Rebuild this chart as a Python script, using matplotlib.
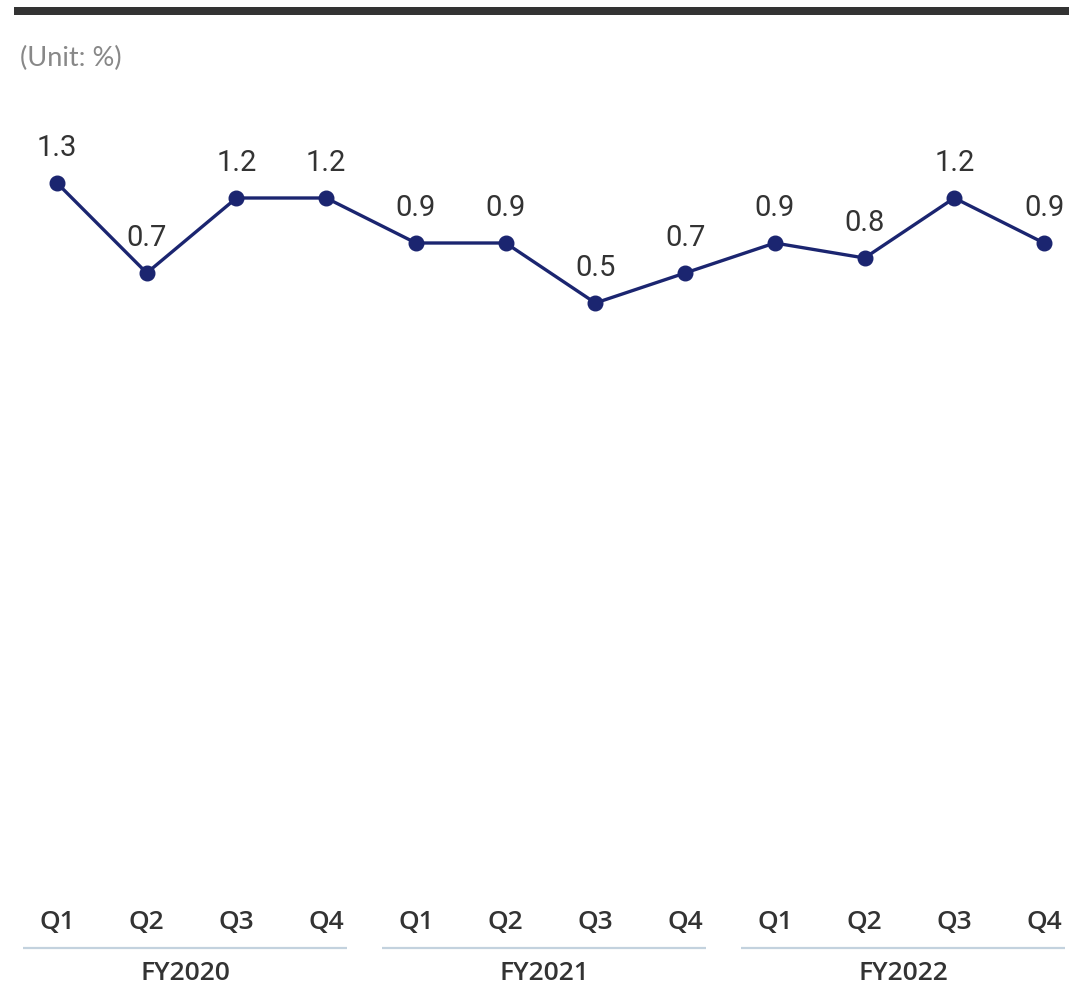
import matplotlib.pyplot as plt
from matplotlib.patches import Rectangle

quarters = ["Q1", "Q2", "Q3", "Q4"] * 3
years = ["FY2020", "FY2021", "FY2022"]
values = [1.3, 0.7, 1.2, 1.2, 0.9, 0.9, 0.5, 0.7, 0.9, 0.8, 1.2, 0.9]

W, H = 1069, 987
fig = plt.figure(figsize=(W / 100, H / 100), dpi=100)
ax = fig.add_axes([0, 0, 1, 1])

# pixel mapping: index 0 at x=57, step 89.73 px; value v at y = 379 - 150*v
step = 89.73
ax.set_xlim(-57 / step, (W - 57) / step)
ax.set_ylim((379 - H) / 150, 379 / 150)
ax.axis("off")

xs = list(range(len(values)))
ax.plot(xs, values, color="#1b2570", lw=2.4, marker="o", ms=10.5, zorder=3)

for x, v in zip(xs, values):
    ax.annotate(f"{v:.1f}", (x, v), xytext=(0, 20.5), textcoords="offset points",
                ha="center", va="baseline", fontsize=21, color="#333333",
                family="Roboto")

def fy(px):
    return 1 - px / H

tr = ax.get_xaxis_transform()
for x, q in zip(xs, quarters):
    ax.text(x, fy(923), q, transform=tr, ha="center", va="center",
            fontsize=19, fontweight="semibold", color="#333333",
            family="Open Sans")

for i, y in enumerate(years):
    a, b = i * 4, i * 4 + 3
    ax.plot([a - 0.38, b + 0.23], [fy(949), fy(949)], transform=tr,
            color="#c3d2de", lw=1.6, solid_capstyle="butt")
    ax.text((a + b) / 2 - 0.07, fy(974), y, transform=tr, ha="center",
            va="center", fontsize=19, fontweight="semibold", color="#333333",
            family="Open Sans")

fig.text(20 / W, fy(58), "(Unit: %)", ha="left", va="center", fontsize=19.5,
         color="#888888", family="Lato")

fig.add_artist(Rectangle((14 / W, fy(16)), 1 - 14 / W, 8 / H,
                         transform=fig.transFigure, color="#333333", lw=0))

fig.savefig("out.png", dpi=100)
